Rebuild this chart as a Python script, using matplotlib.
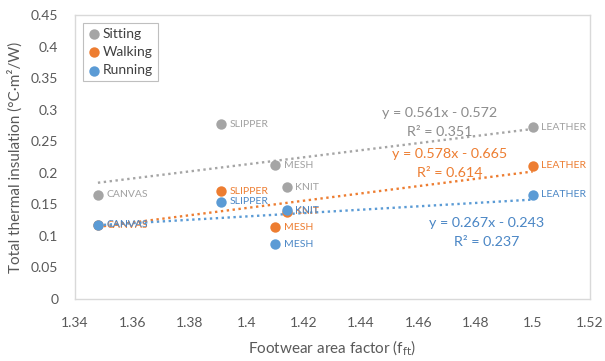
import numpy as np
import matplotlib
matplotlib.use("Agg")
import matplotlib.pyplot as plt

plt.rcParams['font.family'] = ['Lato', 'DejaVu Sans']

shoes = ["CANVAS", "SLIPPER", "MESH", "KNIT", "LEATHER"]
area_factor = [1.348, 1.391, 1.410, 1.414, 1.500]

sitting = [0.165, 0.277, 0.212, 0.177, 0.272]
walking = [0.117, 0.171, 0.114, 0.138, 0.211]
running = [0.118, 0.154, 0.087, 0.141, 0.165]

# slope, intercept, R² of the linear trendlines
fits = {
    "Sitting": (0.561, -0.572, 0.351),
    "Walking": (0.578, -0.665, 0.614),
    "Running": (0.267, -0.243, 0.237),
}

colors = {"Sitting": "#A5A5A5", "Walking": "#ED7D31", "Running": "#5B9BD5"}
text_colors = {"Sitting": "#A0A0A0", "Walking": "#ED7D31", "Running": "#4A86C5"}
eq_colors = {"Sitting": "#8C8C8C", "Walking": "#ED7D31", "Running": "#4A86C5"}
# where each equation block sits (x, y of the first line)
eq_pos = {"Sitting": (1.4676, 0.295), "Walking": (1.4711, 0.230), "Running": (1.4839, 0.1205)}

fig = plt.figure(figsize=(6.05, 3.61), dpi=100)
ax = fig.add_axes([0.124, 0.172, 0.851, 0.786])

series = {"Sitting": sitting, "Walking": walking, "Running": running}
for name, vals in series.items():
    c = colors[name]
    ax.scatter(area_factor, vals, s=56, color=c, label=name, zorder=3, linewidths=0)
    for x, y, lab in zip(area_factor, vals, shoes):
        ax.annotate(lab, (x, y), xytext=(6, 0), textcoords="offset points",
                    va="center", ha="left", fontsize=7.5, color=text_colors[name], zorder=4)

for name in series:
    m, b, r2 = fits[name]
    xs = np.array([min(area_factor), max(area_factor)])
    ax.plot(xs, m * xs + b, linestyle=(0, (1, 1.5)), color=colors[name], lw=1.7, zorder=2)
    ex, ey = eq_pos[name]
    ax.text(ex, ey, f"y = {m:.3f}x - {abs(b):.3f}", ha="center", va="center",
            fontsize=10.3, color=eq_colors[name])
    ax.text(ex, ey - 0.031, f"R² = {r2:.3f}", ha="center", va="center",
            fontsize=10.3, color=eq_colors[name])

ax.set_xlim(1.34, 1.52)
ax.set_ylim(0, 0.45)
ax.set_xticks(np.arange(1.34, 1.5201, 0.02))
ax.set_xticklabels(["1.34", "1.36", "1.38", "1.4", "1.42", "1.44", "1.46", "1.48", "1.5", "1.52"])
ax.set_yticks(np.arange(0, 0.4501, 0.05))
ax.set_yticklabels(["0", "0.05", "0.1", "0.15", "0.2", "0.25", "0.3", "0.35", "0.4", "0.45"])
ax.tick_params(length=0, labelsize=10, labelcolor="#595959")
ax.tick_params(axis="x", pad=13)
ax.tick_params(axis="y", pad=12)

for sp in ax.spines.values():
    sp.set_color("#D9D9D9")
    sp.set_linewidth(1)

ax.set_xlabel("Footwear area factor (f$_{\\mathrm{ft}}$)", fontsize=11, color="#595959", labelpad=7)
ax.set_ylabel("Total thermal insulation (°C·m²/W)", fontsize=11, color="#595959", labelpad=6)

leg = ax.legend(loc="upper left", fontsize=10, handletextpad=0.1, handlelength=1,
                borderpad=0.35, labelspacing=0.45, fancybox=False, framealpha=1,
                borderaxespad=0.55)
leg.get_frame().set_edgecolor("#BFBFBF")
leg.get_frame().set_linewidth(0.8)
for t in leg.get_texts():
    t.set_color("#404040")

fig.savefig("out.png", dpi=100)
